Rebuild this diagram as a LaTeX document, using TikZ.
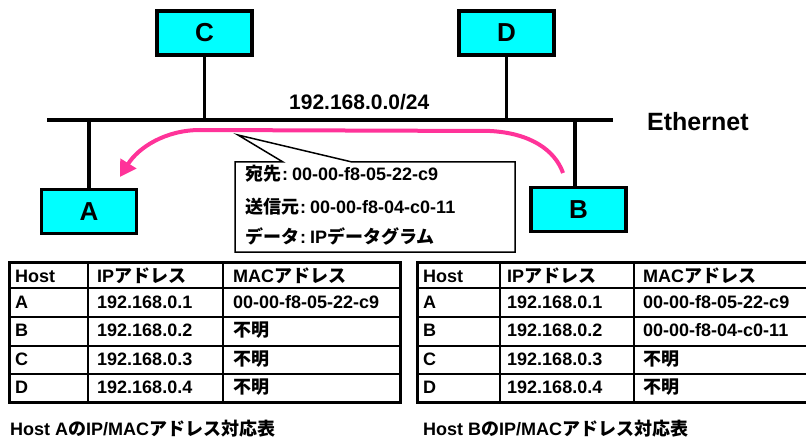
\documentclass[tikz,border=0pt]{standalone}
\usepackage{fontspec}
\setmainfont{Liberation Sans}
\newfontfamily\jp{Noto Sans CJK JP}
\newcommand\J[1]{{\jp #1}}
\newcommand\csep{\hspace{1pt}:\hspace{4pt}}
\usetikzlibrary{arrows.meta}
\definecolor{hostcyan}{HTML}{00FFFF}
\definecolor{arrowpink}{HTML}{FF3399}
\tikzset{
  host/.style={draw, line width=3.5pt, fill=hostcyan, minimum width=95pt, minimum height=44pt, inner sep=0pt, font=\fontsize{26}{28}\selectfont\bfseries},
  wire/.style={line width=3.5pt},
  cell/.style={anchor=base west, inner sep=0pt, font=\fontsize{18}{20}\selectfont\bfseries},
  bigtext/.style={anchor=base west, inner sep=0pt},
  thickrule/.style={line width=3pt},
  thinrule/.style={line width=1.2pt},
}
\begin{document}
\begin{tikzpicture}[x=1pt,y=-1pt]
\useasboundingbox (0,0) rectangle (806,441);
\clip (0,0) rectangle (806,441);
% network
\coordinate (eL) at (47,120);
\coordinate (eR) at (613,120);
\node[host] (C) at (204.5,33) {C};
\node[host] (D) at (506.5,33) {D};
\node[host] (A) at (89,211.5) {A};
\node[host] (B) at (578.5,209.5) {B};
\coordinate (Bt) at ([xshift=-3.5pt]B.north);
\draw[wire] (eL) -- (eR);
\draw[wire] (C.south) -- (C.south |- eL);
\draw[wire] (D.south) -- (D.south |- eL);
\draw[wire] (A.north) -- (A.north |- eL);
\draw[wire] (Bt) -- (Bt |- eL);
\node[bigtext, font=\fontsize{21}{23}\selectfont\bfseries] (net) at (289,110) {192.168.0.0/24};
\node[bigtext, font=\fontsize{25}{27}\selectfont\bfseries] (eth) at (647,131) {Ethernet};
% arrow
\coordinate (arrS) at (563,173);
\coordinate (arrE) at (120,177);
\draw[arrowpink, line width=4pt, -{Triangle[length=16pt,width=18pt]}]
  (arrS) .. controls (555,150) and (530,133) .. (490,131) -- (200,130)
  .. controls (165,130) and (138,148) .. (arrE);
% callout
\coordinate (mTL) at (235,162);
\coordinate (mP1) at (283,162);
\coordinate (mTip) at (238,135);
\coordinate (mP2) at (352,162);
\coordinate (mTR) at (515,162);
\coordinate (mBR) at (515,252);
\coordinate (mBL) at (235,252);
\draw[line width=1.5pt, fill=white] (mTL) -- (mP1) -- (mTip) -- (mP2) -- (mTR) -- (mBR) -- (mBL) -- cycle;
\node[cell] (m1) at (245,181) {\J{宛先}\csep 00-00-f8-05-22-c9};
\node[cell] (m2) at (245,213) {\J{送信元}\csep 00-00-f8-04-c0-11};
\node[cell] (m3) at (245,243) {\J{データ}\csep IP\J{データグラム}};
% table A
\foreach \yy in {288,317,346,374} \draw[thinrule] (9,\yy) -- (400,\yy);
\draw[thinrule] (88,262) -- (88,402);
\draw[thinrule] (223,262) -- (223,402);
\draw[thickrule] (9,262) rectangle (400,402);
\foreach \b/\h/\ip/\mac [count=\i] in {282/Host/IP\J{アドレス}/MAC\J{アドレス}, 308/A/192.168.0.1/00-00-f8-05-22-c9, 336.5/B/192.168.0.2/\J{不明}, 365/C/192.168.0.3/\J{不明}, 393/D/192.168.0.4/\J{不明}}
{
  \node[cell] (a\i-h) at (15,\b) {\h};
  \node[cell] (a\i-ip) at (97,\b) {\ip};
  \node[cell] (a\i-mac) at (233,\b) {\mac};
}
\node[bigtext, font=\fontsize{18}{20}\selectfont\bfseries] (capA) at (10,435) {Host A\J{の}IP/MAC\J{アドレス対応表}};
% table B
\foreach \yy in {288,317,346,374} \draw[thinrule] (417,\yy) -- (812,\yy);
\draw[thinrule] (500,262) -- (500,402);
\draw[thinrule] (634,262) -- (634,402);
\draw[thickrule] (417,262) rectangle (812,402);
\foreach \b/\h/\ip/\mac [count=\i] in {282/Host/IP\J{アドレス}/MAC\J{アドレス}, 308/A/192.168.0.1/00-00-f8-05-22-c9, 336.5/B/192.168.0.2/00-00-f8-04-c0-11, 365/C/192.168.0.3/\J{不明}, 393/D/192.168.0.4/\J{不明}}
{
  \node[cell] (b\i-h) at (423,\b) {\h};
  \node[cell] (b\i-ip) at (507,\b) {\ip};
  \node[cell] (b\i-mac) at (643,\b) {\mac};
}
\node[bigtext, font=\fontsize{18}{20}\selectfont\bfseries] (capB) at (423,435) {Host B\J{の}IP/MAC\J{アドレス対応表}};
\end{tikzpicture}
\end{document}
